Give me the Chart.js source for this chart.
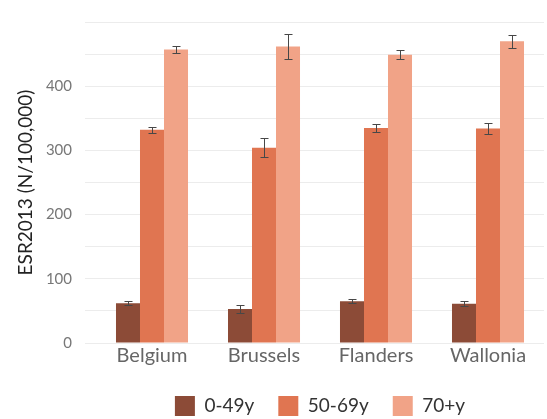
<!DOCTYPE html>
<html>
<head>
<meta charset="utf-8">
<script src="https://cdn.jsdelivr.net/npm/chart.js@4/dist/chart.umd.min.js"></script>
<style>
  html, body { margin: 0; padding: 0; background: #fff; }
  #wrap { width: 547px; height: 419px; position: relative; }
</style>
</head>
<body>
<div id="wrap"><canvas id="esrChart"></canvas></div>
<script>
const regions = ['Belgium', 'Brussels', 'Flanders', 'Wallonia'];
const ageGroups = ['0-49y', '50-69y', '70+y'];
const young = [62, 53, 65, 61];
const middle = [332, 304, 335, 334];
const old = [457, 462, 449, 470];
const youngErr = [3, 6, 3, 4];
const middleErr = [5, 15, 6, 8];
const oldErr = [5, 19, 7, 10];
const yTicks = [0, 100, 200, 300, 400];

const colors = ['#8c4b37', '#e07551', '#f1a387'];

// draws the error bars on top of every bar
const errorBars = {
    id: 'errorBars',
    afterDatasetsDraw(chart) {
        const ctx = chart.ctx;
        const y = chart.scales.y;
        ctx.save();
        ctx.strokeStyle = '#474747';
        ctx.lineWidth = 1;
        chart.data.datasets.forEach((ds, i) => {
            const meta = chart.getDatasetMeta(i);
            meta.data.forEach((bar, j) => {
                const v = ds.data[j];
                const e = ds.errors[j];
                const top = Math.round(y.getPixelForValue(v + e)) + 0.5;
                const bot = Math.round(y.getPixelForValue(v - e)) + 0.5;
                const x = Math.round(bar.x) + 0.5;
                ctx.beginPath();
                ctx.moveTo(x, top); ctx.lineTo(x, bot);
                ctx.moveTo(x - 4, top); ctx.lineTo(x + 4, top);
                ctx.moveTo(x - 4, bot); ctx.lineTo(x + 4, bot);
                ctx.stroke();
            });
        });
        ctx.restore();
    }
};

const series = [young, middle, old];
const errs = [youngErr, middleErr, oldErr];

new Chart(document.getElementById('esrChart'), {
    type: 'bar',
    data: {
        labels: regions,
        datasets: ageGroups.map((g, i) => ({
            label: g,
            data: series[i],
            errors: errs[i],
            backgroundColor: colors[i],
            borderWidth: 0,
            categoryPercentage: 0.643,
            barPercentage: 1
        }))
    },
    options: {
        responsive: true,
        maintainAspectRatio: false,
        animation: false,
        layout: { padding: { top: 20, right: 3, left: 0, bottom: -7 } },
        plugins: {
            tooltip: { enabled: false },
            legend: {
                position: 'bottom',
                fullSize: false,
                labels: {
                    boxWidth: 20,
                    boxHeight: 20,
                    padding: 24,
                    color: '#333',
                    font: { family: 'Lato', size: 19 }
                }
            }
        },
        scales: {
            x: {
                afterFit: (s) => { s.height = 29; },
                grid: { display: false, drawTicks: false },
                border: { display: false },
                ticks: { color: '#666', padding: 1, font: { family: 'Lato', size: 20 } }
            },
            y: {
                min: 0,
                max: 500,
                afterFit: (s) => { s.width = 96; },
                afterBuildTicks: (s) => {
                    s.ticks = [0, 50, 100, 150, 200, 250, 300, 350, 400, 450, 500].map(v => ({ value: v }));
                },
                border: { display: false },
                grid: { color: '#ececec', tickLength: 11, lineWidth: 1 },
                ticks: {
                    padding: 13,
                    color: '#777',
                    font: { family: 'Lato', size: 15 },
                    callback: (v) => yTicks.includes(v) ? v : ''
                },
                title: {
                    display: true,
                    text: 'ESR2013 (N/100,000)',
                    color: '#222',
                    padding: { top: 14, bottom: 0 },
                    font: { family: 'Lato', size: 19 }
                }
            }
        }
    },
    plugins: [errorBars]
});
</script>
</body>
</html>
